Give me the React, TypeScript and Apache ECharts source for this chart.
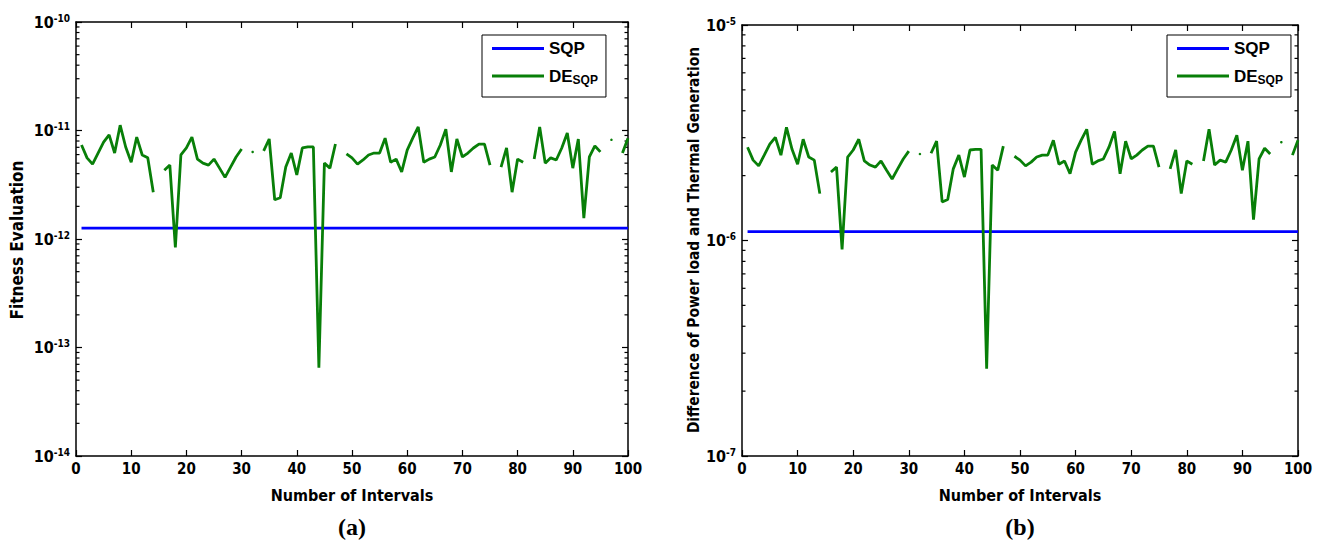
import React, { useEffect, useRef } from "react";
import * as echarts from "echarts";

const FONT_NARROW = "'Liberation Sans Narrow','Arial Narrow','DejaVu Sans Condensed',sans-serif";
const FONT_SANS = "'Liberation Sans',Arial,sans-serif";

// x positions (intervals)
const intervals: number[] = Array.from({ length: 100 }, (_, i) => i + 1);

// (a) Fitness evaluation, DE_SQP (null = gap)
const deFitness: (number | null)[] = [
  7.35e-12, 5.6e-12, 4.9e-12, 6.2e-12, 7.8e-12, 9.1e-12, 6.2e-12, 1.12e-11, 7.05e-12, 5.1e-12,
  8.7e-12, 5.95e-12, 5.6e-12, 2.7e-12, null, 4.3e-12, 4.8e-12, 8.35e-13, 5.95e-12, 6.9e-12,
  8.7e-12, 5.45e-12, 5.0e-12, 4.8e-12, 5.45e-12, 4.5e-12, 3.7e-12, 4.6e-12, 5.7e-12, 6.75e-12,
  null, 6.35e-12, null, 6.5e-12, 8.35e-12, 2.3e-12, 2.4e-12, 4.6e-12, 6.2e-12, 3.9e-12,
  6.9e-12, 7.05e-12, 7.05e-12, 6.5e-14, 5.0e-12, 4.5e-12, 7.5e-12, null, 6.1e-12, 5.6e-12,
  4.9e-12, 5.35e-12, 5.95e-12, 6.2e-12, 6.2e-12, 8.5e-12, 5.1e-12, 5.45e-12, 4.15e-12, 6.6e-12,
  8.5e-12, 1.08e-11, 5.1e-12, 5.45e-12, 5.7e-12, 7.35e-12, 1.03e-11, 4.15e-12, 8.35e-12, 5.7e-12,
  6.2e-12, 6.9e-12, 7.5e-12, 7.5e-12, 4.8e-12, null, 4.6e-12, 6.9e-12, 2.7e-12, 5.45e-12,
  5.1e-12, null, 5.45e-12, 1.08e-11, 5.0e-12, 5.6e-12, 5.35e-12, 6.9e-12, 9.5e-12, 4.5e-12,
  8.35e-12, 1.56e-12, 5.7e-12, 7.2e-12, 6.35e-12, null, 8.2e-12, null, 6.2e-12, 8.5e-12,
];
const sqpFitness = 1.26e-12;

// (b) Difference of power load and thermal generation, DE_SQP
const deDiff: (number | null)[] = [
  2.71e-6, 2.36e-6, 2.22e-6, 2.49e-6, 2.8e-6, 3.01e-6, 2.49e-6, 3.35e-6, 2.65e-6, 2.26e-6,
  2.95e-6, 2.44e-6, 2.36e-6, 1.65e-6, null, 2.08e-6, 2.19e-6, 9.09e-7, 2.44e-6, 2.63e-6,
  2.95e-6, 2.34e-6, 2.24e-6, 2.19e-6, 2.34e-6, 2.12e-6, 1.93e-6, 2.15e-6, 2.39e-6, 2.6e-6,
  null, 2.52e-6, null, 2.54e-6, 2.89e-6, 1.51e-6, 1.55e-6, 2.15e-6, 2.49e-6, 1.97e-6,
  2.63e-6, 2.65e-6, 2.65e-6, 2.54e-7, 2.24e-6, 2.12e-6, 2.74e-6, null, 2.46e-6, 2.36e-6,
  2.22e-6, 2.31e-6, 2.44e-6, 2.49e-6, 2.49e-6, 2.92e-6, 2.26e-6, 2.34e-6, 2.04e-6, 2.57e-6,
  2.92e-6, 3.28e-6, 2.26e-6, 2.34e-6, 2.39e-6, 2.71e-6, 3.21e-6, 2.04e-6, 2.89e-6, 2.39e-6,
  2.49e-6, 2.63e-6, 2.74e-6, 2.74e-6, 2.19e-6, null, 2.15e-6, 2.63e-6, 1.65e-6, 2.34e-6,
  2.26e-6, null, 2.34e-6, 3.28e-6, 2.24e-6, 2.36e-6, 2.31e-6, 2.63e-6, 3.08e-6, 2.12e-6,
  2.89e-6, 1.25e-6, 2.39e-6, 2.68e-6, 2.52e-6, null, 2.86e-6, null, 2.49e-6, 2.92e-6,
];
const sqpDiff = 1.1e-6;

const xTicks = { min: 0, max: 100, interval: 10 };
const yRangeA = { min: 1e-14, max: 1e-10 };
const yRangeB = { min: 1e-7, max: 1e-5 };

function minorTicks(minExp: number, maxExp: number): number[] {
  const out: number[] = [];
  for (let e = minExp; e < maxExp; e++) {
    for (let m = 2; m <= 9; m++) out.push(m * Math.pow(10, e));
  }
  return out;
}

function toPoints(vals: (number | null)[]) {
  return vals.map((v, i) => {
    const x = intervals[i];
    if (v == null) return [x, null];
    const prev = i > 0 ? vals[i - 1] : null;
    const next = i < vals.length - 1 ? vals[i + 1] : null;
    if (prev == null && next == null) {
      return { value: [x, v], symbol: "circle", symbolSize: 2.5 };
    }
    return [x, v];
  });
}

export default function App() {
  const ref = useRef<HTMLDivElement>(null);
  useEffect(() => {
    if (!ref.current) return;
    const chart = echarts.init(ref.current, undefined, { renderer: "svg" });
    const axisLine = { show: true, onZero: false, lineStyle: { color: "#000", width: 1.5 } };
    const axisTick = { show: true, inside: true, length: 6, lineStyle: { color: "#000", width: 1.2 } };
    const tickLabel = {
      color: "#000",
      fontFamily: FONT_NARROW,
      fontWeight: "bold" as const,
      fontSize: 15,
    };
    const xBottom = (grid: number) => ({
      type: "value",
      gridIndex: grid,
      position: "bottom",
      ...xTicks,
      axisLine,
      axisTick,
      splitLine: { show: false },
      axisLabel: { ...tickLabel, margin: 5 },
      name: "Number of Intervals",
      nameLocation: "middle",
      nameGap: 31,
      nameTextStyle: { ...tickLabel, fontSize: 16 },
    });
    const xTop = (grid: number) => ({
      type: "value",
      gridIndex: grid,
      position: "top",
      ...xTicks,
      axisLine,
      axisTick,
      splitLine: { show: false },
      axisLabel: { show: false },
    });
    const yLabel = {
      margin: 6,
      formatter: (v: number) => "{b|10}{s|" + Math.round(Math.log10(v)) + "}",
      rich: {
        b: { fontFamily: FONT_NARROW, fontWeight: "bold", fontSize: 16, color: "#000", lineHeight: 18 },
        s: { fontFamily: FONT_NARROW, fontWeight: "bold", fontSize: 10, color: "#000", lineHeight: 18, verticalAlign: "top", padding: [0, 0, 10, 0] },
      },
    };
    const yAxisDef = (grid: number, range: any, pos: string) => ({
      type: "log",
      logBase: 10,
      gridIndex: grid,
      position: pos,
      ...range,
      axisLine,
      axisTick,
      minorTick: { show: false },
      splitLine: { show: false },
      axisLabel: pos === "left" ? yLabel : { show: false },
    });
    const minorSeries = (xi: number, yi: number, vals: number[]) => ({
      type: "custom",
      xAxisIndex: xi,
      yAxisIndex: yi,
      silent: true,
      clip: false,
      data: vals.map((v) => [0, v]),
      renderItem: (_p: any, api: any) => {
        const v = api.value(1);
        const l = api.coord([0, v]);
        const r = api.coord([100, v]);
        return {
          type: "group",
          children: [
            { type: "line", shape: { x1: l[0], y1: l[1], x2: l[0] + 3.5, y2: l[1] }, style: { stroke: "#000", lineWidth: 1.2 } },
            { type: "line", shape: { x1: r[0] - 3.5, y1: r[1], x2: r[0], y2: r[1] }, style: { stroke: "#000", lineWidth: 1.2 } },
          ],
        };
      },
    });
    const legendDef = (left: number) => ({
      data: ["SQP", "DE_SQP"],
      orient: "vertical",
      left,
      top: 35,
      icon: "rect",
      itemWidth: 52,
      itemHeight: 3,
      itemGap: 9,
      backgroundColor: "#fff",
      borderColor: "#000",
      borderWidth: 1,
      borderRadius: 0,
      padding: [5, 8, 11, 10],
      selectedMode: false,
      formatter: (name: string) => (name === "SQP" ? "{m|SQP}" : "{m|DE}{s|SQP}"),
      textStyle: {
        color: "#000",
        rich: {
          m: { fontFamily: FONT_SANS, fontWeight: "bold", fontSize: 17, color: "#000", lineHeight: 20 },
          s: { fontFamily: FONT_SANS, fontWeight: "bold", fontSize: 12, color: "#000", lineHeight: 20, verticalAlign: "bottom", padding: [8, 0, 0, 0] },
        },
      },
    });
    const lineSeries = (name: string, xi: number, yi: number, data: any[], color: string) => ({
      name,
      type: "line",
      xAxisIndex: xi,
      yAxisIndex: yi,
      data,
      symbol: "none",
      showSymbol: true,
      connectNulls: false,
      lineStyle: { color, width: 2.8 },
      itemStyle: { color },
      emphasis: { disabled: true },
    });
    chart.setOption({
      animation: false,
      backgroundColor: "#fff",
      grid: [
        { left: 76, top: 22, width: 552, height: 434 },
        { left: 742, top: 25, width: 556, height: 431 },
      ],
      xAxis: [xBottom(0), xTop(0), xBottom(1), xTop(1)],
      yAxis: [
        yAxisDef(0, yRangeA, "left"),
        yAxisDef(0, yRangeA, "right"),
        yAxisDef(1, yRangeB, "left"),
        yAxisDef(1, yRangeB, "right"),
      ],
      legend: [legendDef(482), legendDef(1167)],
      series: [
        lineSeries("SQP", 0, 0, [[intervals[0], sqpFitness], [intervals[intervals.length - 1], sqpFitness]], "#0000ff"),
        lineSeries("DE_SQP", 0, 0, toPoints(deFitness), "#087f08"),
        lineSeries("SQP", 2, 2, [[intervals[0], sqpDiff], [intervals[intervals.length - 1], sqpDiff]], "#0000ff"),
        lineSeries("DE_SQP", 2, 2, toPoints(deDiff), "#087f08"),
        minorSeries(0, 0, minorTicks(-14, -10)),
        minorSeries(2, 2, minorTicks(-7, -5)),
      ],
      graphic: [
        {
          type: "text",
          x: 17,
          y: 240,
          rotation: Math.PI / 2,
          style: { text: "Fitness Evaluation", fill: "#000", font: "bold 17px " + FONT_NARROW, align: "center", verticalAlign: "middle" },
        },
        {
          type: "text",
          x: 693,
          y: 240,
          rotation: Math.PI / 2,
          scaleX: 0.96,
          style: { text: "Difference of Power load and Thermal Generation", fill: "#000", font: "bold 16px " + FONT_NARROW, align: "center", verticalAlign: "middle" },
        },
        {
          type: "text",
          x: 352,
          y: 527,
          style: { text: "(a)", fill: "#000", font: "bold 24px 'Liberation Serif', 'Times New Roman', serif", align: "center", verticalAlign: "middle" },
        },
        {
          type: "text",
          x: 1020,
          y: 527,
          style: { text: "(b)", fill: "#000", font: "bold 24px 'Liberation Serif', 'Times New Roman', serif", align: "center", verticalAlign: "middle" },
        },
      ],
    });
    return () => chart.dispose();
  }, []);
  return (
    <div
      ref={ref}
      style={{ position: "absolute", left: 0, top: 0, width: 1322, height: 547, background: "#fff" }}
    />
  );
}
